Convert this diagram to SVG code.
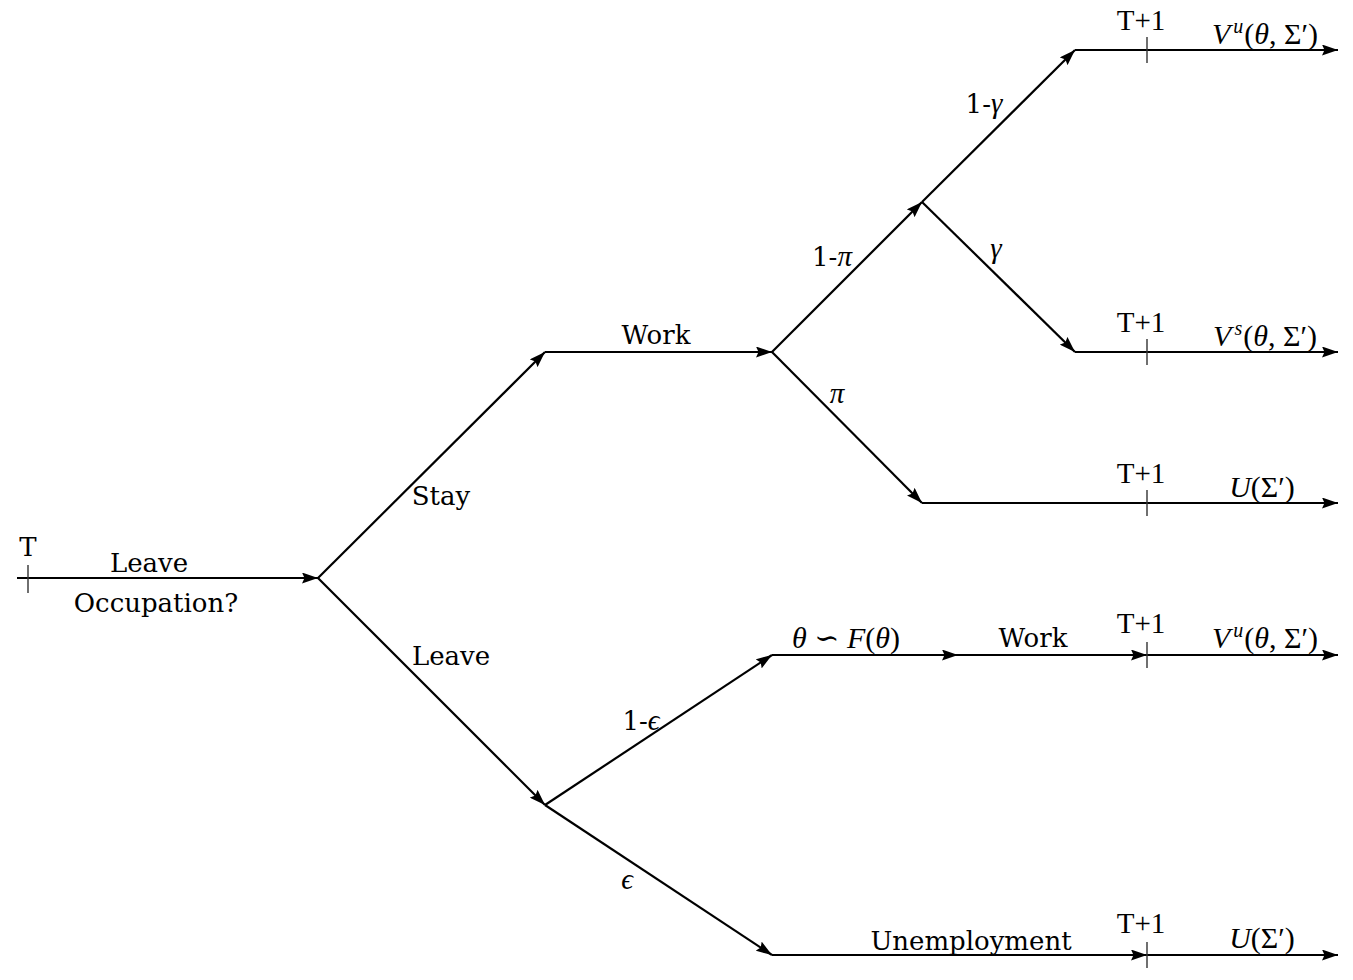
<svg xmlns="http://www.w3.org/2000/svg" width="1353" height="980" viewBox="0 0 1353 980">
<defs>
<marker id="arr" viewBox="0 0 16 11" markerWidth="16" markerHeight="11" refX="16" refY="5.5" orient="auto" markerUnits="userSpaceOnUse">
<path d="M0,0 L16,5.5 L0,11 L2.5,5.5 z" fill="#000"/>
</marker>
<style>
.e{fill:none;stroke:#000;stroke-width:2.2;marker-end:url(#arr)}
.tk{stroke:#333;stroke-width:1.4}
.t{font-family:"DejaVu Serif","Liberation Serif",serif;font-size:26px;fill:#000;text-anchor:middle}
.c{font-family:"Liberation Serif","DejaVu Serif",serif;font-size:29px;fill:#000;text-anchor:middle}
.m{font-family:"Liberation Serif","DejaVu Serif",serif;font-size:30px;fill:#000;text-anchor:middle}
.g{font-family:"Liberation Serif","DejaVu Serif",serif;font-size:29px}
.i{font-style:italic}
</style>
</defs>
<rect width="1353" height="980" fill="#fff"/>
<g id="connectors">
<path class="e" d="M17,578 H318"/>
<path class="e" d="M318,578 L545,352"/>
<path class="e" d="M545,352 H772"/>
<path class="e" d="M772,352 L922,202"/>
<path class="e" d="M922,202 L1075,50"/>
<path class="e" d="M1075,50 H1338"/>
<path class="e" d="M922,202 L1075,352"/>
<path class="e" d="M1075,352 H1338"/>
<path class="e" d="M772,352 L922,503"/>
<path class="e" d="M922,503 H1338"/>
<path class="e" d="M318,578 L545,805"/>
<path class="e" d="M545,805 L772,655"/>
<path class="e" d="M772,655 H958"/>
<path class="e" d="M958,655 H1147"/>
<path class="e" d="M1147,655 H1338"/>
<path class="e" d="M545,805 L772,955"/>
<path class="e" d="M772,955 H1147"/>
<path class="e" d="M1147,955 H1338"/>
<line class="tk" x1="28" y1="565" x2="28" y2="593"/>
<line class="tk" x1="1147" y1="37" x2="1147" y2="63"/>
<line class="tk" x1="1147" y1="339" x2="1147" y2="365"/>
<line class="tk" x1="1147" y1="490" x2="1147" y2="516"/>
<line class="tk" x1="1147" y1="642" x2="1147" y2="668"/>
<line class="tk" x1="1147" y1="942" x2="1147" y2="968"/>
</g>
<g id="start">
<text class="t" x="28" y="556">T</text>
<text class="t" x="149" y="572">Leave</text>
<text class="t" x="156" y="612">Occupation?</text>
</g>
<g id="stay-branch">
<text class="t" x="441" y="505">Stay</text>
<text class="t" x="656" y="344">Work</text>
<text class="t" x="832" y="266">1-<tspan class="g i">π</tspan></text>
<text class="t" x="837" y="403"><tspan class="g i">π</tspan></text>
<text class="t" x="984" y="113">1-<tspan class="g i">γ</tspan></text>
<text class="t" x="996" y="258"><tspan class="g i">γ</tspan></text>
</g>
<g id="outcome-vu-top">
<text class="c" x="1141" y="30">T+1</text>
<text class="m" x="1265" y="44"><tspan class="i">V</tspan><tspan class="i" font-size="20" dx="3" dy="-11">u</tspan><tspan dx="1" dy="11">(</tspan><tspan class="i">θ</tspan>, Σ′)</text>
</g>
<g id="outcome-vs">
<text class="c" x="1141" y="332">T+1</text>
<text class="m" x="1265" y="346"><tspan class="i">V</tspan><tspan class="i" font-size="20" dx="3" dy="-11">s</tspan><tspan dx="1" dy="11">(</tspan><tspan class="i">θ</tspan>, Σ′)</text>
</g>
<g id="outcome-u-mid">
<text class="c" x="1141" y="483">T+1</text>
<text class="m" x="1262" y="497"><tspan class="i">U</tspan>(Σ′)</text>
</g>
<g id="leave-branch">
<text class="t" x="451" y="665">Leave</text>
<text class="t" x="641" y="730">1-<tspan class="g i">ϵ</tspan></text>
<text class="t" x="627" y="889"><tspan class="g i">ϵ</tspan></text>
<text class="m" x="846" y="648"><tspan class="i">θ</tspan> ∽ <tspan class="i">F</tspan>(<tspan class="i">θ</tspan>)</text>
<text class="t" x="1033" y="647">Work</text>
<text class="t" x="971" y="950">Unemployment</text>
</g>
<g id="outcome-vu-bottom">
<text class="c" x="1141" y="633">T+1</text>
<text class="m" x="1265" y="648"><tspan class="i">V</tspan><tspan class="i" font-size="20" dx="3" dy="-11">u</tspan><tspan dx="1" dy="11">(</tspan><tspan class="i">θ</tspan>, Σ′)</text>
</g>
<g id="outcome-u-bottom">
<text class="c" x="1141" y="933">T+1</text>
<text class="m" x="1262" y="948"><tspan class="i">U</tspan>(Σ′)</text>
</g>
</svg>
